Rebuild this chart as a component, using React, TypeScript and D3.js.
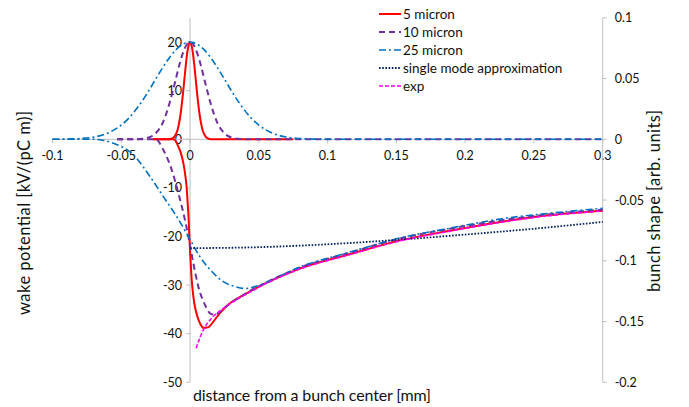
import React from "react";
import * as d3 from "d3";

// ---------- data ----------
// x in mm, wake potential in kV/(pC m), bunch shape drawn on the same vertical scale
const redWakeX = [-0.027, -0.012, -0.01, -0.0085, -0.0065, -0.0048, -0.0035, -0.0025, -0.0017, -0.001, -0.0005, 0.0003, 0.0012, 0.0024, 0.0036, 0.0055, 0.0073, 0.0097, 0.013, 0.017, 0.021, 0.0255, 0.0412, 0.0558, 0.0788, 0.1164, 0.1527, 0.189, 0.2255, 0.2618, 0.3];
const redWakeY = [0, 0, -0.6, -1.5, -3.0, -5.0, -7.3, -9.8, -13.2, -16.5, -20, -24.5, -28.9, -32.3, -34.5, -36.6, -37.9, -38.8, -38.7, -37.5, -36.0, -34.6, -31.7, -29.5, -26.7, -23.6, -20.8, -18.8, -17.0, -15.6, -14.7];

const purpleWakeX = [-0.053, -0.025, -0.0194, -0.0133, -0.0085, -0.0048, -0.0012, 0.0024, 0.006, 0.0109, 0.0145, 0.018, 0.0218, 0.0242, 0.0412, 0.0558, 0.0788, 0.1164, 0.1527, 0.189, 0.2255, 0.2618, 0.3];
const purpleWakeY = [0, 0, -2.2, -6.3, -11.1, -15.2, -20, -25.5, -30.3, -34.1, -35.8, -36.1, -35.5, -34.9, -31.6, -29.4, -26.5, -23.3, -20.4, -18.4, -16.7, -15.4, -14.5];

const blueWakeX = [-0.1, -0.07, -0.0558, -0.0412, -0.029, -0.0194, -0.0097, -0.0012, 0.0073, 0.0158, 0.0242, 0.0327, 0.04, 0.0485, 0.0558, 0.0788, 0.1164, 0.1527, 0.189, 0.2255, 0.2618, 0.3];
const blueWakeY = [0, 0, -0.8, -3.2, -7.7, -11.8, -15.9, -20, -24.2, -27.2, -29.3, -30.3, -30.7, -30.2, -29.4, -26.4, -23.2, -20.3, -18.3, -16.4, -15.2, -14.2];

const singleModeX = [0, 0.05, 0.1, 0.15, 0.2, 0.25, 0.3];
const singleModeY = [-22.4, -22.2, -21.6, -20.7, -19.6, -18.4, -17.0];

const expX = [0.0044, 0.0075, 0.0109, 0.016, 0.0242, 0.0325, 0.0412, 0.0558, 0.0788, 0.1164, 0.1527, 0.189, 0.2255, 0.2618, 0.3];
const expY = [-43.0, -40.6, -38.6, -36.7, -34.8, -33.2, -31.8, -29.6, -26.8, -23.7, -20.9, -18.9, -17.1, -15.7, -14.75];

const redBunchX = [-0.027, -0.015, -0.012, -0.01, -0.009, -0.008, -0.007, -0.006, -0.005, -0.004, -0.003, -0.002, -0.001, 0, 0.001, 0.002, 0.003, 0.004, 0.005, 0.006, 0.007, 0.008, 0.009, 0.01, 0.012, 0.015, 0.075];
const redBunchY = [0, 0.03, 0.34, 1.2, 2.0, 3.3, 5.0, 7.2, 9.8, 12.7, 15.5, 17.9, 19.4, 20, 19.4, 17.9, 15.5, 12.7, 9.8, 7.2, 5.0, 3.3, 2.0, 1.2, 0.34, 0.03, 0];

const purpleBunchX = [-0.053, -0.04, -0.035, -0.03, -0.025, -0.02, -0.0175, -0.015, -0.0125, -0.01, -0.0075, -0.005, -0.0025, 0, 0.0025, 0.005, 0.0075, 0.01, 0.0125, 0.015, 0.0175, 0.02, 0.025, 0.03, 0.035, 0.04, 0.3];
const purpleBunchY = [0, 0.02, 0.09, 0.36, 1.24, 3.3, 5.1, 7.35, 10.0, 12.8, 15.6, 17.9, 19.45, 20, 19.45, 17.9, 15.6, 12.8, 10.0, 7.35, 5.1, 3.3, 1.24, 0.36, 0.09, 0.02, 0];

const blueBunchX = [-0.1, -0.09, -0.08, -0.07, -0.06, -0.05, -0.045, -0.04, -0.035, -0.03, -0.025, -0.02, -0.015, -0.01, -0.005, 0, 0.005, 0.01, 0.015, 0.02, 0.025, 0.03, 0.035, 0.04, 0.045, 0.05, 0.06, 0.07, 0.08, 0.09, 0.1, 0.3];
const blueBunchY = [0, 0.04, 0.15, 0.46, 1.25, 2.93, 4.2, 5.85, 7.8, 10.0, 12.4, 14.7, 16.8, 18.5, 19.6, 20, 19.6, 18.5, 16.8, 14.7, 12.4, 10.0, 7.8, 5.85, 4.2, 2.93, 1.25, 0.46, 0.15, 0.04, 0, 0];

const xTicks = [-0.1, -0.05, 0, 0.05, 0.1, 0.15, 0.2, 0.25, 0.3];
const yTicks = [-50, -40, -30, -20, -10, 0, 10, 20];
const yRightTicks = [-0.2, -0.15, -0.1, -0.05, 0, 0.05, 0.1];

const legendLabels = ["5 micron", "10 micron", "25 micron", "single mode approximation", "exp"];

// ---------- styling ----------
const FONT = "Lato, 'Open Sans', sans-serif";
const AXIS = "#bfbfbf";
const TXT = "#111";
const styles = [
  { color: "#ff0000", dash: "", width: 2 },
  { color: "#7030a0", dash: "6,4", width: 2 },
  { color: "#0070c0", dash: "7,3,2,3", width: 1.6 },
  { color: "#002060", dash: "1.6,1.6", width: 1.8 },
  { color: "#ff00ff", dash: "4,2", width: 1.6 },
];

const zip = (xs: number[], ys: number[]) => xs.map((x, i) => [x, ys[i]] as [number, number]);

export default function App() {
  const W = 689, H = 407;
  const x = d3.scaleLinear().domain([-0.1, 0.3]).range([52.5, 602.7]);
  const y = d3.scaleLinear().domain([-50, 25]).range([382.3, 17.8]);
  const yR = d3.scaleLinear().domain([-0.2, 0.1]).range([382.3, 17.8]);
  const line = d3
    .line<[number, number]>()
    .x((d) => x(d[0]))
    .y((d) => y(d[1]))
    .curve(d3.curveMonotoneX);

  const series: { data: [number, number][]; s: number }[] = [
    { data: zip(redWakeX, redWakeY), s: 0 },
    { data: zip(redBunchX, redBunchY), s: 0 },
    { data: zip(purpleWakeX, purpleWakeY), s: 1 },
    { data: zip(purpleBunchX, purpleBunchY), s: 1 },
    { data: zip(blueWakeX, blueWakeY), s: 2 },
    { data: zip(blueBunchX, blueBunchY), s: 2 },
    { data: zip(singleModeX, singleModeY), s: 3 },
    { data: zip(expX, expY), s: 4 },
  ];

  const fmt = (v: number) => String(+v.toFixed(2));
  const x0 = x(0);
  const y0 = y(0);
  const xr = x(0.3);

  return (
    <svg width={W} height={H} style={{ position: "absolute", left: 0, top: 0, background: "#fff" }} fontFamily={FONT}>
      {/* left axis */}
      <line x1={x0} x2={x0} y1={y(25)} y2={y(-50)} stroke={AXIS} strokeWidth={1} />
      {yTicks.map((t) => (
        <g key={"yl" + t}>
          <line x1={x0 - 4} x2={x0} y1={y(t)} y2={y(t)} stroke={AXIS} />
          <text x={x0 - 8} y={y(t) + 4.5} textAnchor="end" fontSize={12.5} fill={TXT}>{t}</text>
        </g>
      ))}
      {/* x axis at zero */}
      <line x1={x(-0.1)} x2={xr} y1={y0} y2={y0} stroke={AXIS} strokeWidth={1} />
      {xTicks.map((t) => (
        <g key={"x" + t}>
          <line x1={x(t)} x2={x(t)} y1={y0} y2={y0 + 4} stroke={AXIS} />
          <text x={x(t)} y={y0 + 20.5} textAnchor="middle" fontSize={12.5} fill={TXT}>{fmt(t)}</text>
        </g>
      ))}
      {/* right axis */}
      <line x1={xr} x2={xr} y1={yR(0.1)} y2={yR(-0.2)} stroke={AXIS} strokeWidth={1} />
      {yRightTicks.map((t) => (
        <g key={"yr" + t}>
          <line x1={xr} x2={xr + 4} y1={yR(t)} y2={yR(t)} stroke={AXIS} />
          <text x={xr + 12} y={yR(t) + 4.5} textAnchor="start" fontSize={12.5} fill={TXT}>{fmt(t)}</text>
        </g>
      ))}

      {/* series */}
      {series.map((sr, i) => (
        <path
          key={"s" + i}
          d={line(sr.data) || ""}
          fill="none"
          stroke={styles[sr.s].color}
          strokeWidth={styles[sr.s].width}
          strokeDasharray={styles[sr.s].dash || undefined}
        />
      ))}

      {/* legend */}
      {legendLabels.map((lab, i) => {
        const ly = 14 + i * 18;
        return (
          <g key={"lg" + i}>
            <line x1={379} x2={401} y1={ly} y2={ly} stroke={styles[i].color} strokeWidth={styles[i].width} strokeDasharray={styles[i].dash || undefined} />
            <text x={403} y={ly + 4.5} fontSize={13.5} fill={TXT}>{lab}</text>
          </g>
        );
      })}

      {/* axis titles */}
      <text x={193} y={401} fontSize={16} fill={TXT} textLength={238} lengthAdjust="spacing">distance from a bunch center [mm]</text>
      <text transform={`translate(30,213) rotate(-90)`} textAnchor="middle" fontSize={16.5} fill={TXT} textLength={204} lengthAdjust="spacing">wake potential [kV/(pC m)]</text>
      <text transform={`translate(660,201) rotate(-90)`} textAnchor="middle" fontSize={16.5} fill={TXT} textLength={182} lengthAdjust="spacing">bunch shape [arb. units]</text>
    </svg>
  );
}
